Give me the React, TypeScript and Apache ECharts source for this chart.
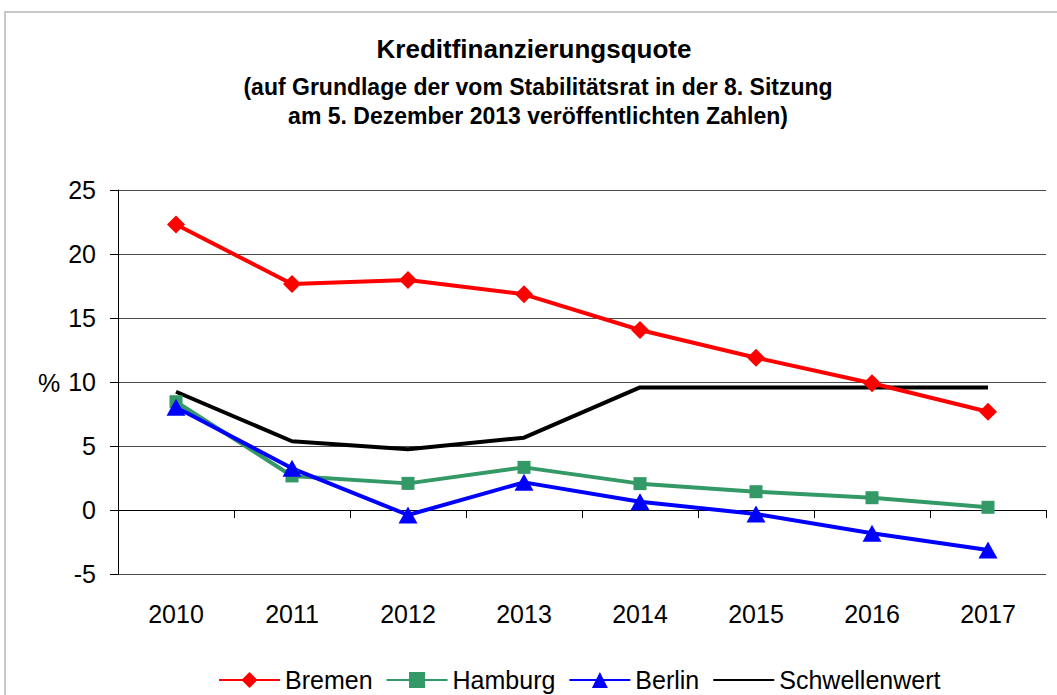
import React, { useEffect, useRef } from "react";
import * as echarts from "echarts";

const categories = ["2010", "2011", "2012", "2013", "2014", "2015", "2016", "2017"];
const bremen = [22.3, 17.66, 17.97, 16.85, 14.06, 11.9, 9.9, 7.68];
const hamburg = [8.46, 2.66, 2.08, 3.33, 2.06, 1.43, 0.96, 0.21];
const berlin = [8.02, 3.26, -0.39, 2.16, 0.65, -0.31, -1.82, -3.12];
const schwellenwert = [9.24, 5.37, 4.74, 5.65, 9.58, 9.58, 9.58, 9.58];

const FONT = "'Liberation Sans', Arial, sans-serif";

export default function App() {
  const ref = useRef<HTMLDivElement>(null);
  useEffect(() => {
    document.body.style.margin = "0";
    const chart = echarts.init(ref.current!, null, { renderer: "svg" });
    chart.setOption({
      animation: false,
      backgroundColor: "#ffffff",
      textStyle: { fontFamily: FONT },
      title: [
        {
          text: "Kreditfinanzierungsquote",
          left: 534,
          textAlign: "center",
          top: 36,
          padding: 0,
          textStyle: { fontSize: 26, fontWeight: "bold", color: "#000", fontFamily: FONT },
        },
        {
          text: "(auf Grundlage der vom Stabilitätsrat in der 8. Sitzung\nam 5. Dezember 2013 veröffentlichten Zahlen)",
          left: 538,
          textAlign: "center",
          top: 72,
          padding: 0,
          textStyle: { fontSize: 23, fontWeight: "bold", color: "#000", lineHeight: 29, fontFamily: FONT },
        },
      ],
      graphic: [
        {
          type: "rect",
          shape: { x: 5, y: 12, width: 1100, height: 800 },
          style: { fill: "none", stroke: "#c8c8c8", lineWidth: 2 },
          silent: true,
        },
        {
          type: "text",
          x: 38,
          y: 383,
          style: { text: "%", fontSize: 25, fill: "#000", font: `25px ${FONT}`, textVerticalAlign: "middle" },
        },
      ],
      legend: {
        left: 218,
        top: 667,
        padding: 0,
        itemWidth: 61,
        itemHeight: 20,
        itemGap: 13,
        textStyle: { fontSize: 25, color: "#000", fontFamily: FONT, lineHeight: 26 },
        data: [
          "Bremen",
          "Hamburg",
          "Berlin",
          { name: "Schwellenwert", itemStyle: { opacity: 0 } },
        ],
      },
      grid: { left: 118, right: 11, top: 190, bottom: 121, containLabel: false },
      xAxis: {
        type: "category",
        data: categories,
        boundaryGap: true,
        axisLine: { lineStyle: { color: "#000", width: 1 } },
        axisTick: { show: true, length: 8, lineStyle: { color: "#000" } },
        axisLabel: { fontSize: 25, color: "#000", margin: 27, fontFamily: FONT },
        splitLine: { show: false },
      },
      yAxis: {
        type: "value",
        min: -5,
        max: 25,
        interval: 5,
        axisLine: { show: true, lineStyle: { color: "#000", width: 1 } },
        axisTick: { show: true, length: 8, lineStyle: { color: "#000" } },
        axisLabel: { fontSize: 25, color: "#000", margin: 22, fontFamily: FONT },
        splitLine: { show: true, lineStyle: { color: "#4a4a4a", width: 1 } },
      },
      series: [
        {
          name: "Bremen",
          type: "line",
          data: bremen,
          symbol: "diamond",
          symbolSize: [18, 18],
          itemStyle: { color: "#ff0000" },
          lineStyle: { color: "#ff0000", width: 4 },
        },
        {
          name: "Hamburg",
          type: "line",
          data: hamburg,
          symbol: "rect",
          symbolSize: 13,
          itemStyle: { color: "#339966" },
          lineStyle: { color: "#339966", width: 4 },
        },
        {
          name: "Berlin",
          type: "line",
          data: berlin,
          symbol: "triangle",
          symbolSize: [19, 17],
          itemStyle: { color: "#0000ff" },
          lineStyle: { color: "#0000ff", width: 4 },
        },
        {
          name: "Schwellenwert",
          type: "line",
          data: schwellenwert,
          symbol: "none",
          itemStyle: { color: "#000" },
          lineStyle: { color: "#000", width: 4 },
          z: 1,
        },
      ],
    });
    return () => chart.dispose();
  }, []);
  return <div ref={ref} style={{ width: 1057, height: 695 }} />;
}
